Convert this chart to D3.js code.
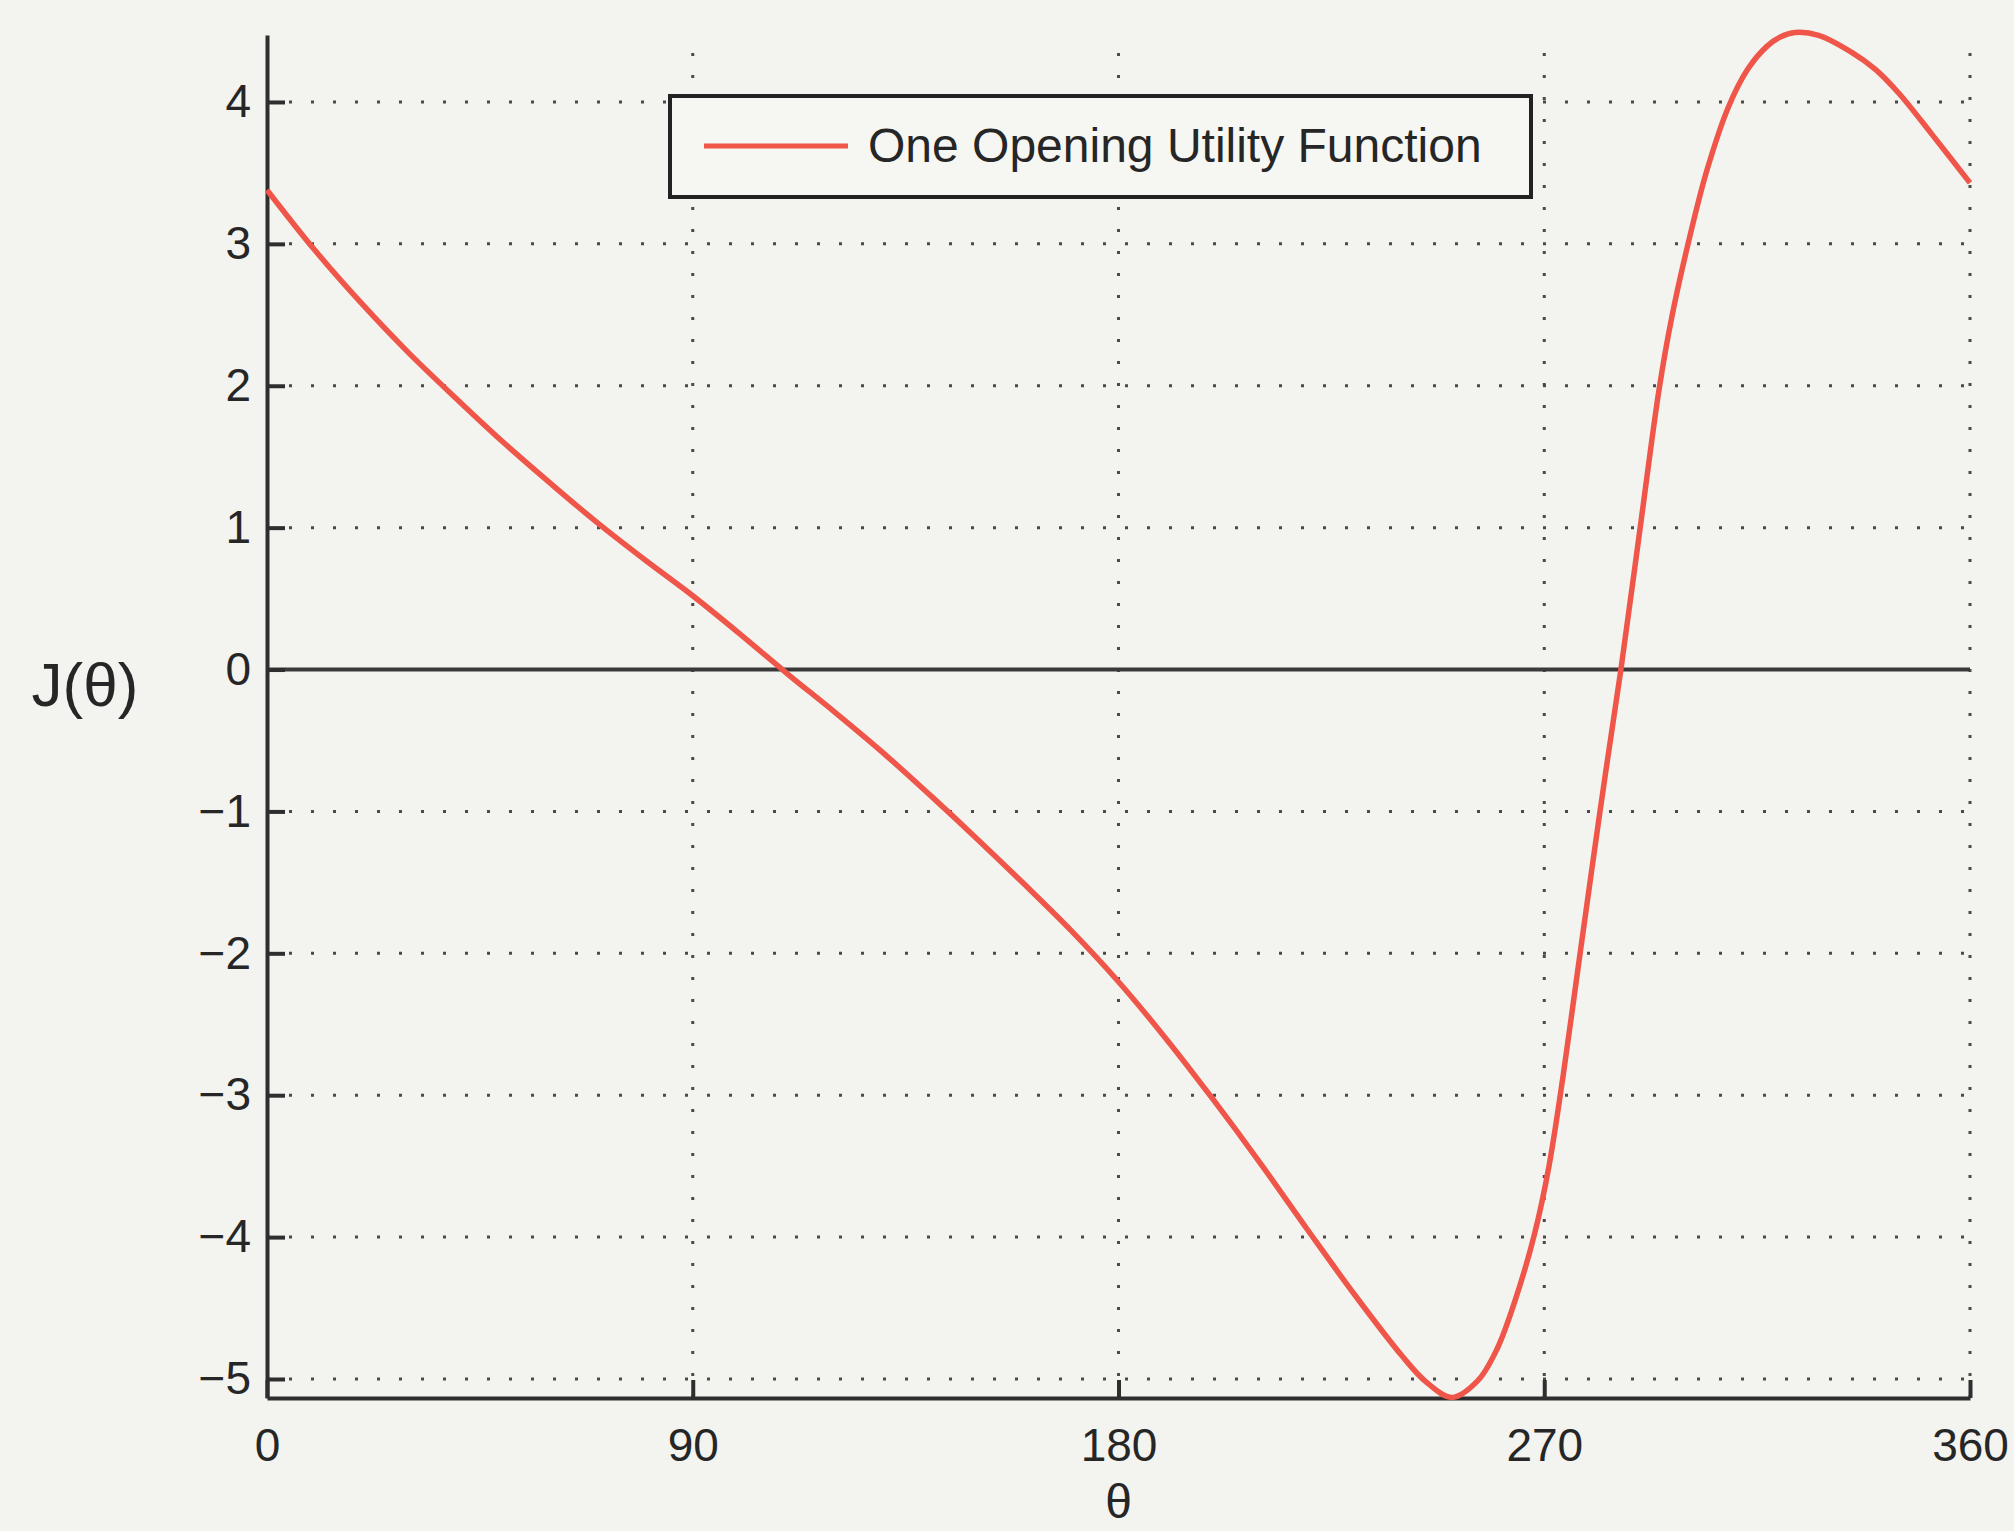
<!DOCTYPE html>
<html>
<head>
<meta charset="utf-8">
<script src="https://cdn.jsdelivr.net/npm/d3@7.9.0/dist/d3.min.js"></script>
<style>
  body { margin: 0; background: #f3f3ef; }
  svg { display: block; }
  text { font-family: "Liberation Sans", Arial, sans-serif; fill: #262626; }
</style>
</head>
<body>
<div id="chart"></div>
<script>
// angle in degrees and utility values
const theta = [0, 10, 20, 30, 40, 50, 60, 70, 80, 90, 100, 110, 120, 130, 140, 150, 160, 170, 180,
  190, 200, 210, 220, 230, 240, 245, 250.5, 256, 260, 264, 268, 271, 274, 277, 280, 283, 286.2,
  290.2, 294.3, 297, 300.4, 304.4, 309, 313, 317, 320, 323, 328, 335, 340, 345, 352, 360];
const utility = [3.38, 2.96, 2.58, 2.23, 1.91, 1.60, 1.31, 1.03, 0.77, 0.52, 0.25, -0.03, -0.30, -0.58, -0.88, -1.19, -1.51, -1.84, -2.20,
  -2.60, -3.03, -3.48, -3.95, -4.41, -4.84, -5.02, -5.13, -5.01, -4.79, -4.43, -3.97, -3.50, -2.86, -2.14, -1.42, -0.72, 0.00,
  0.98, 1.98, 2.49, 3.00, 3.52, 3.97, 4.23, 4.39, 4.46, 4.49, 4.47, 4.35, 4.23, 4.06, 3.77, 3.43];

const xTicks = [0, 90, 180, 270, 360];
const yTicks = [-5, -4, -3, -2, -1, 0, 1, 2, 3, 4];
const legendLabel = "One Opening Utility Function";

const width = 2014;
const height = 1531;
const margin = { top: 35, right: 44, bottom: 133, left: 267 };

const svg = d3.select("#chart")
  .append("svg")
  .attr("width", width)
  .attr("height", height);

// tight axis like matlab
const x = d3.scaleLinear()
  .domain([0, 360])
  .range([margin.left, width - margin.right]);

const y = d3.scaleLinear()
  .domain([-5.134, 4.472])
  .range([height - margin.bottom, margin.top]);

// dotted grid
const grid = svg.append("g")
  .attr("stroke", "#4a4a4a")
  .attr("stroke-width", 3)
  .attr("stroke-dasharray", "3,19");

grid.selectAll(".gx")
  .data(xTicks.slice(1))
  .join("line")
  .attr("x1", d => x(d)).attr("x2", d => x(d))
  .attr("y1", y.range()[0]).attr("y2", y.range()[1]);

grid.selectAll(".gy")
  .data(yTicks.filter(d => d !== 0))
  .join("line")
  .attr("x1", x.range()[0]).attr("x2", x.range()[1])
  .attr("y1", d => y(d)).attr("y2", d => y(d));

// solid zero line
svg.append("line")
  .attr("x1", x(0)).attr("x2", x(360))
  .attr("y1", y(0)).attr("y2", y(0))
  .attr("stroke", "#3a3a3a")
  .attr("stroke-width", 4);

// axes, ticks point inwards
const xAxis = d3.axisBottom(x)
  .tickValues(xTicks)
  .tickSizeInner(-18)
  .tickSizeOuter(0)
  .tickPadding(30);

const yAxis = d3.axisLeft(y)
  .tickValues(yTicks)
  .tickSizeInner(-18)
  .tickSizeOuter(0)
  .tickPadding(16);

const gx = svg.append("g")
  .attr("transform", `translate(0,${height - margin.bottom})`)
  .call(xAxis);

const gy = svg.append("g")
  .attr("transform", `translate(${margin.left},0)`)
  .call(yAxis);

[gx, gy].forEach(g => {
  g.select(".domain").attr("stroke", "#2e2e2e").attr("stroke-width", 4);
  g.selectAll(".tick line").attr("stroke", "#2e2e2e").attr("stroke-width", 4);
  g.selectAll(".tick text")
    .attr("font-size", 46)
    .attr("font-family", "Liberation Sans, Arial, sans-serif")
    .attr("fill", "#262626");
});

// the curve
const line = d3.line()
  .x((d, i) => x(theta[i]))
  .y(d => y(d))
  .curve(d3.curveCatmullRom.alpha(0.5));

svg.append("path")
  .datum(utility)
  .attr("fill", "none")
  .attr("stroke", "#ef5548")
  .attr("stroke-width", 5.5)
  .attr("stroke-linejoin", "round")
  .attr("d", line);

// axis labels
svg.append("text")
  .attr("x", 85)
  .attr("y", 706)
  .attr("text-anchor", "middle")
  .attr("font-size", 62)
  .text("J(θ)");

svg.append("text")
  .attr("x", x(180))
  .attr("y", 1518)
  .attr("text-anchor", "middle")
  .attr("font-size", 48)
  .text("θ");

// legend
const legend = svg.append("g").attr("transform", "translate(670,96)");
legend.append("rect")
  .attr("width", 861)
  .attr("height", 101)
  .attr("fill", "#f6f6f3")
  .attr("stroke", "#222")
  .attr("stroke-width", 4);
legend.append("line")
  .attr("x1", 34).attr("x2", 178)
  .attr("y1", 50).attr("y2", 50)
  .attr("stroke", "#ef5548")
  .attr("stroke-width", 5);
legend.append("text")
  .attr("x", 198)
  .attr("y", 66)
  .attr("font-size", 48)
  .text(legendLabel);
</script>
</body>
</html>
